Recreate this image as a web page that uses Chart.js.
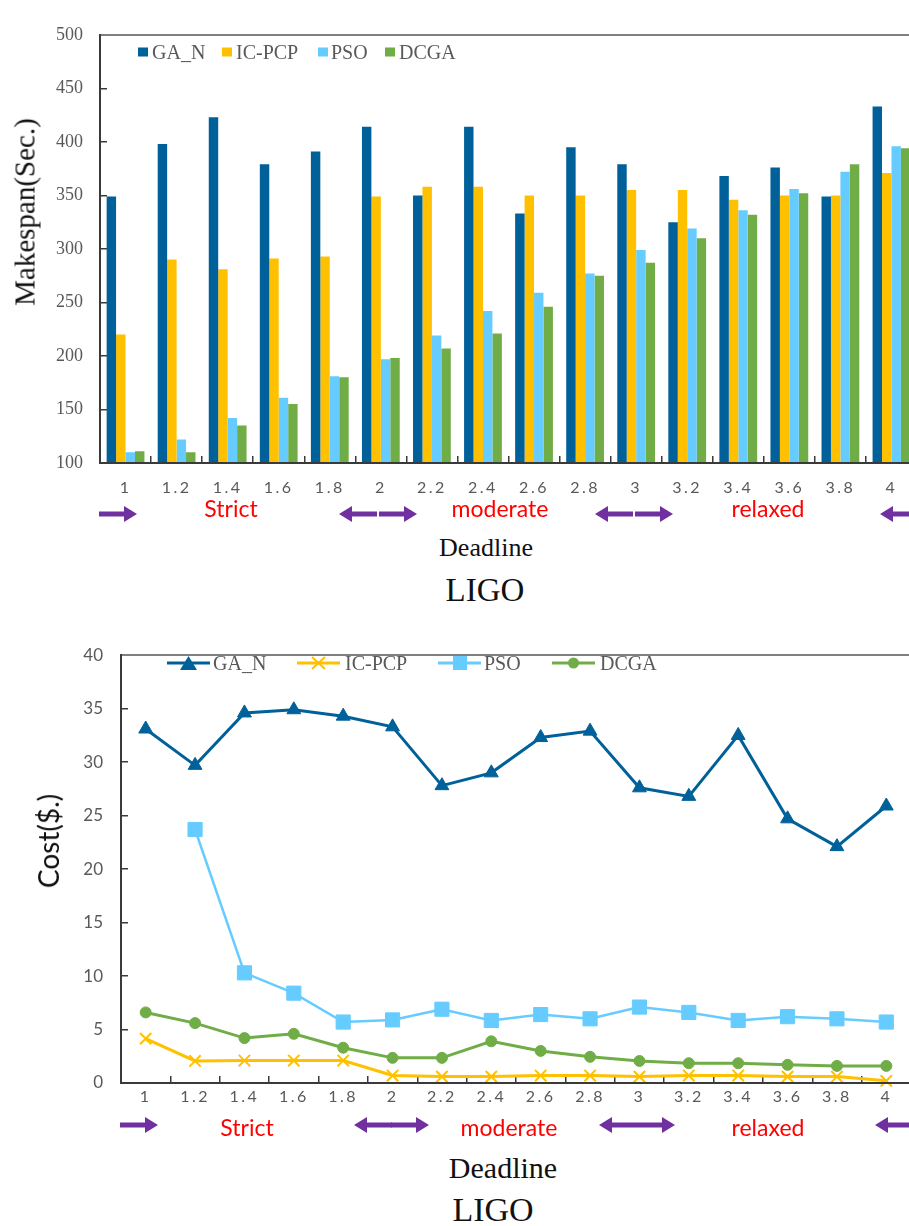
<!DOCTYPE html>
<html>
<head>
<meta charset="utf-8">
<script src="https://cdn.jsdelivr.net/npm/chart.js@4.4.1/dist/chart.umd.min.js"></script>
<style>
  body { margin:0; width:909px; height:1226px; overflow:hidden; background:#fff; position:relative; }
  .box { position:absolute; left:0; }
  .t { position:absolute; white-space:nowrap; line-height:1; transform:translate(-50%,-50%); }
  .serif { font-family:"Liberation Serif", serif; color:#111; }
  .red { font-family:Lato, sans-serif; font-size:23px; color:#ff0000; }
  .rot { transform:translate(-50%,-50%) rotate(-90deg); }
  .leg { position:absolute; font-family:"Liberation Serif", serif; font-size:20px; color:#595959; line-height:1; transform:translateY(-50%); white-space:nowrap; }
  .sq { position:absolute; width:10px; height:9px; transform:translateY(-50%); }
  svg.arr, svg.lm { position:absolute; overflow:visible; }
</style>
</head>
<body>

<!-- makespan chart -->
<div class="box" style="top:0;width:940px;height:503px"><canvas id="barChart" width="940" height="503"></canvas></div>
<div class="t serif rot" style="left:25px;top:212px;font-size:29px">Makespan(Sec.)</div>

<div class="sq" style="left:138px;top:52px;background:#00619a"></div><div class="leg" style="left:152px;top:52px">GA_N</div>
<div class="sq" style="left:222px;top:52px;background:#ffc000"></div><div class="leg" style="left:236px;top:52px">IC-PCP</div>
<div class="sq" style="left:318px;top:52px;background:#66ccff"></div><div class="leg" style="left:331px;top:52px">PSO</div>
<div class="sq" style="left:385px;top:52px;background:#70ad47"></div><div class="leg" style="left:399px;top:52px">DCGA</div>

<div class="t red" style="left:231px;top:508px">Strict</div>
<div class="t red" style="left:500px;top:508px">moderate</div>
<div class="t red" style="left:768px;top:508px">relaxed</div>
<div class="t serif" style="left:486px;top:548px;font-size:26px">Deadline</div>
<div class="t serif" style="left:485px;top:590px;font-size:33px">LIGO</div>

<!-- cost chart -->
<div class="box" style="top:620px;width:935px;height:503px"><canvas id="lineChart" width="935" height="503"></canvas></div>
<div class="t rot" style="left:48px;top:841px;font-size:28px;font-family:Lato, sans-serif;color:#111">Cost($.)</div>

<div class="leg" style="left:213px;top:663px">GA_N</div>
<div class="leg" style="left:345px;top:663px">IC-PCP</div>
<div class="leg" style="left:484px;top:663px">PSO</div>
<div class="leg" style="left:600px;top:663px">DCGA</div>

<div class="t red" style="left:247px;top:1127px">Strict</div>
<div class="t red" style="left:509px;top:1127px">moderate</div>
<div class="t red" style="left:768px;top:1127px">relaxed</div>
<div class="t serif" style="left:503px;top:1168px;font-size:30px">Deadline</div>
<div class="t serif" style="left:493px;top:1210px;font-size:34px">LIGO</div>

<script>
// x categories (deadline factor)
const deadlines = ['1', '1.2', '1.4', '1.6', '1.8', '2', '2.2', '2.4', '2.6', '2.8', '3', '3.2', '3.4', '3.6', '3.8', '4'];
const seriesNames = ['GA_N', 'IC-PCP', 'PSO', 'DCGA'];

// makespan (sec.)
const makespanGA   = [349, 398, 423, 379, 391, 414, 350, 414, 333, 395, 379, 325, 368, 376, 349, 433];
const makespanIC   = [220, 290, 281, 291, 293, 349, 358, 358, 350, 350, 355, 355, 346, 350, 350, 371];
const makespanPSO  = [110, 122, 142, 161, 181, 197, 219, 242, 259, 277, 299, 319, 336, 356, 372, 396];
const makespanDCGA = [111, 110, 135, 155, 180, 198, 207, 221, 246, 275, 287, 310, 332, 352, 379, 394];
const makespanTicks = [100, 150, 200, 250, 300, 350, 400, 450, 500];

// cost ($)
const costGA   = [33.1, 29.7, 34.6, 34.9, 34.3, 33.3, 27.8, 29.0, 32.3, 32.9, 27.6, 26.8, 32.5, 24.7, 22.1, 25.9];
const costIC   = [4.15, 2.06, 2.1, 2.1, 2.1, 0.7, 0.6, 0.6, 0.7, 0.7, 0.6, 0.7, 0.7, 0.6, 0.6, 0.2];
const costPSO  = [null, 23.7, 10.3, 8.4, 5.7, 5.9, 6.9, 5.85, 6.4, 6.0, 7.1, 6.6, 5.85, 6.2, 6.0, 5.7];
const costDCGA = [6.6, 5.6, 4.2, 4.6, 3.3, 2.35, 2.35, 3.9, 3.0, 2.45, 2.06, 1.85, 1.85, 1.7, 1.6, 1.6];
const costTicks = [0, 5, 10, 15, 20, 25, 30, 35, 40];

const colors = ['#00619a', '#ffc000', '#66ccff', '#70ad47'];
const axisColor = '#3a3a3a';

// spaced-out x tick labels: x labels are drawn after the datasets (ticks.z = 1)
const tickSpacing = {
  id: 'tickSpacing',
  afterDatasetsDraw(chart) { chart.ctx.letterSpacing = '2.5px'; },
  afterDraw(chart) { chart.ctx.letterSpacing = '0px'; }
};

function yScale(ticks, width, font, padding) {
  return {
    min: ticks[0], max: ticks[ticks.length - 1],
    afterBuildTicks: s => { s.ticks = ticks.map(v => ({ value: v })); },
    afterFit: s => { s.width = width; },
    grid: { drawOnChartArea: false, tickLength: -7, color: axisColor, lineWidth: 1.5 },
    border: { color: axisColor, width: 2 },
    ticks: { padding: padding, color: '#595959', font: font }
  };
}
function xScale(padding) {
  return {
    offset: true,
    afterFit: s => { s.height = 40; },
    grid: { offset: true, drawOnChartArea: false, tickLength: -7, color: axisColor, lineWidth: 1.5 },
    border: { color: axisColor, width: 2, z: 1 },
    ticks: { z: 1, padding: padding, autoSkip: false, maxRotation: 0, color: '#595959', font: { family: 'Lato', size: 16 } }
  };
}
const topBorder = {
  position: 'top',
  grid: { display: false, drawTicks: false },
  border: { color: '#7f7f7f', width: 2 },
  ticks: { display: false }
};

new Chart(document.getElementById('barChart'), {
  type: 'bar',
  data: {
    labels: deadlines,
    datasets: [makespanGA, makespanIC, makespanPSO, makespanDCGA].map((d, i) => ({
      label: seriesNames[i], data: d, backgroundColor: colors[i],
      categoryPercentage: 0.74, barPercentage: 1
    }))
  },
  options: {
    responsive: false, animation: false,
    layout: { padding: { top: 16, right: 23, left: 0, bottom: 0 } },
    plugins: { legend: { display: false }, tooltip: { enabled: false } },
    scales: {
      x: xScale(22),
      x2: topBorder,
      y: yScale(makespanTicks, 100, { family: 'Liberation Serif', size: 18 }, 24)
    }
  },
  plugins: [tickSpacing]
});

const pointStyles = ['triangle', 'crossRot', 'rect', 'circle'];
const pointSizes = [8, 8, 10, 5.5];
new Chart(document.getElementById('lineChart'), {
  type: 'line',
  data: {
    labels: deadlines,
    datasets: [costGA, costIC, costPSO, costDCGA].map((d, i) => ({
      label: seriesNames[i], data: d,
      borderColor: colors[i], backgroundColor: colors[i],
      borderWidth: i === 2 ? 2.5 : 3, tension: 0, clip: false,
      pointStyle: pointStyles[i], pointRadius: pointSizes[i],
      pointBorderColor: colors[i], pointBackgroundColor: colors[i], pointBorderWidth: i === 1 ? 2 : 1
    }))
  },
  options: {
    responsive: false, animation: false,
    layout: { padding: { top: 16, right: 24, left: 0, bottom: 0 } },
    plugins: { legend: { display: false }, tooltip: { enabled: false } },
    scales: {
      x: xScale(11),
      x2: topBorder,
      y: yScale(costTicks, 121, { family: 'Lato', size: 17 }, 25)
    }
  },
  plugins: [tickSpacing]
});

// legend line markers and purple range arrows
const svgNS = 'http://www.w3.org/2000/svg';
function svg(cls, x, y, w, h, inner) {
  const el = document.createElementNS(svgNS, 'svg');
  el.setAttribute('class', cls);
  el.setAttribute('width', w); el.setAttribute('height', h);
  el.style.left = x + 'px'; el.style.top = y + 'px';
  el.innerHTML = inner;
  document.body.appendChild(el);
}
const markers = [
  c => `<polygon points="21.5,1 30,15 13,15" fill="${c}"/>`,
  c => `<path d="M15,2 L28,14 M28,2 L15,14" stroke="${c}" stroke-width="2"/>`,
  c => `<rect x="15" y="1" width="14" height="14" fill="${c}"/>`,
  c => `<circle cx="21.5" cy="8" r="5.5" fill="${c}"/>`
];
[167, 297, 438, 552].forEach((x, i) => {
  svg('lm', x, 655, 43, 16, `<line x1="0" y1="8" x2="43" y2="8" stroke="${colors[i]}" stroke-width="3"/>` + markers[i](colors[i]));
});
const right = '<polygon points="0,5.5 25,5.5 25,0 38,8 25,16 25,10.5 0,10.5" fill="#7030a0"/>';
const left = '<polygon points="38,5.5 13,5.5 13,0 0,8 13,16 13,10.5 38,10.5" fill="#7030a0"/>';
[[99, right], [339, left], [379, right], [595, left], [635, right], [880, left]].forEach(a => svg('arr', a[0], 506, 38, 16, a[1]));
[[120, right], [354, left], [391, right], [599, left], [637, right], [875, left]].forEach(a => svg('arr', a[0], 1117, 38, 16, a[1]));
</script>
</body>
</html>
